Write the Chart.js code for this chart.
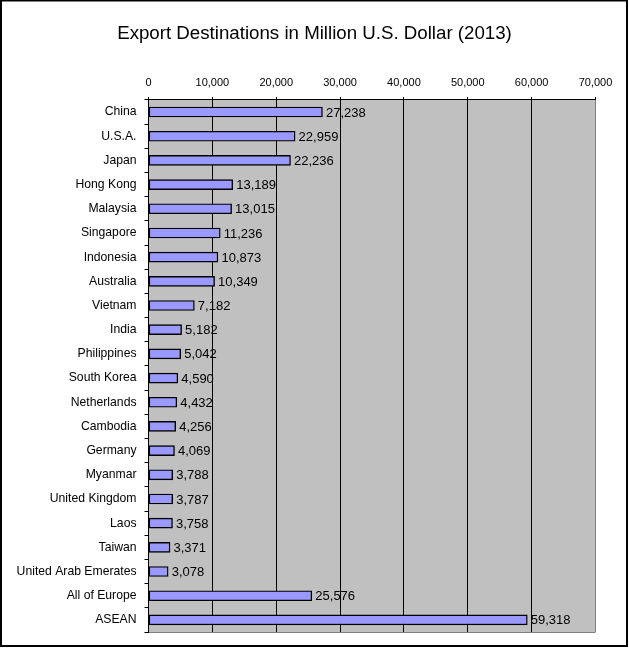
<!DOCTYPE html>
<html>
<head>
<meta charset="utf-8">
<title>Export Destinations</title>
<script src="https://cdn.jsdelivr.net/npm/chart.js@4/dist/chart.umd.min.js"></script>
<style>
    html, body { margin: 0; padding: 0; background: #fff; }
    canvas { display: block; }
</style>
</head>
<body>
<canvas id="chart" width="629" height="648"></canvas>
<script>
const categories = ['China', 'U.S.A.', 'Japan', 'Hong Kong', 'Malaysia', 'Singapore', 'Indonesia',
    'Australia', 'Vietnam', 'India', 'Philippines', 'South Korea', 'Netherlands', 'Cambodia',
    'Germany', 'Myanmar', 'United Kingdom', 'Laos', 'Taiwan', 'United Arab Emerates',
    'All of Europe', 'ASEAN'];
const exportValues = [27238, 22959, 22236, 13189, 13015, 11236, 10873, 10349, 7182, 5182, 5042,
    4590, 4432, 4256, 4069, 3788, 3787, 3758, 3371, 3078, 25576, 59318];
const chartTitle = 'Export Destinations in Million U.S. Dollar (2013)';

const FONT = '"Liberation Sans", Arial, sans-serif';
const AXIS_MAX = 70000;

// grey plot background, grey bottom edge and the black outer frame
const backdrop = {
    id: 'backdrop',
    beforeDraw(chart) {
        const { ctx, chartArea: a } = chart;
        ctx.save();
        ctx.fillStyle = '#c0c0c0';
        ctx.fillRect(a.left, a.top, a.right - a.left, a.bottom - a.top);
        ctx.strokeStyle = '#808080';
        ctx.lineWidth = 1;
        ctx.beginPath();
        ctx.moveTo(a.left, a.bottom + 0.5);
        ctx.lineTo(a.right, a.bottom + 0.5);
        ctx.stroke();
        ctx.restore();
    },
    afterDraw(chart) {
        const { ctx } = chart;
        ctx.save();
        ctx.strokeStyle = '#000';
        ctx.lineWidth = 2;
        ctx.strokeRect(1, 0.5, 626, 645.5);
        ctx.restore();
    }
};

// value next to each bar
const barLabels = {
    id: 'barLabels',
    afterDatasetsDraw(chart) {
        const { ctx } = chart;
        ctx.save();
        ctx.font = '13px ' + FONT;
        ctx.fillStyle = '#000';
        ctx.textAlign = 'left';
        ctx.textBaseline = 'middle';
        chart.getDatasetMeta(0).data.forEach((bar, i) => {
            ctx.fillText(exportValues[i].toLocaleString('en-US'), bar.x + 3.5, bar.y + 1);
        });
        ctx.restore();
    }
};

new Chart(document.getElementById('chart'), {
    type: 'bar',
    data: {
        labels: categories,
        datasets: [{
            data: exportValues,
            backgroundColor: '#9999ff',
            borderColor: '#000',
            borderWidth: 1.4,
            borderSkipped: false,
            barThickness: 10
        }]
    },
    plugins: [backdrop, barLabels],
    options: {
        indexAxis: 'y',
        responsive: false,
        animation: false,
        devicePixelRatio: 1,
        layout: { padding: { left: 0, right: 0, top: 0, bottom: 16 } },
        plugins: {
            legend: { display: false },
            tooltip: { enabled: false },
            title: {
                display: true,
                text: chartTitle,
                color: '#000',
                font: { family: FONT, size: 18.7, weight: 'normal' },
                padding: { top: 23, bottom: 0 }
            }
        },
        scales: {
            x: {
                position: 'top',
                min: 0,
                max: AXIS_MAX,
                afterFit(scale) { scale.height = 99 - 44.5; },
                ticks: {
                    stepSize: 10000,
                    color: '#000',
                    maxRotation: 0,
                    padding: 7,
                    font: { family: FONT, size: 11 },
                    callback: value => value.toLocaleString('en-US')
                },
                grid: {
                    color: ctx => (ctx.tick.value === AXIS_MAX ? '#808080' : '#000'),
                    tickColor: '#000',
                    lineWidth: 1,
                    tickLength: 3
                },
                border: { color: '#000', width: 1 }
            },
            y: {
                afterFit(scale) { scale.width = 148.5; },
                ticks: {
                    color: '#000',
                    autoSkip: false,
                    padding: 8,
                    font: { family: FONT, size: 12.2 }
                },
                grid: { offset: true, drawOnChartArea: false, color: '#000', tickLength: 4 },
                border: { color: '#000', width: 1 }
            },
            // empty axis that only reserves the white strip right of the plot
            spacer: {
                type: 'linear',
                position: 'right',
                afterFit(scale) { scale.width = 33.5; },
                ticks: { display: false },
                grid: { display: false },
                border: { display: false }
            }
        }
    }
});
</script>
</body>
</html>
